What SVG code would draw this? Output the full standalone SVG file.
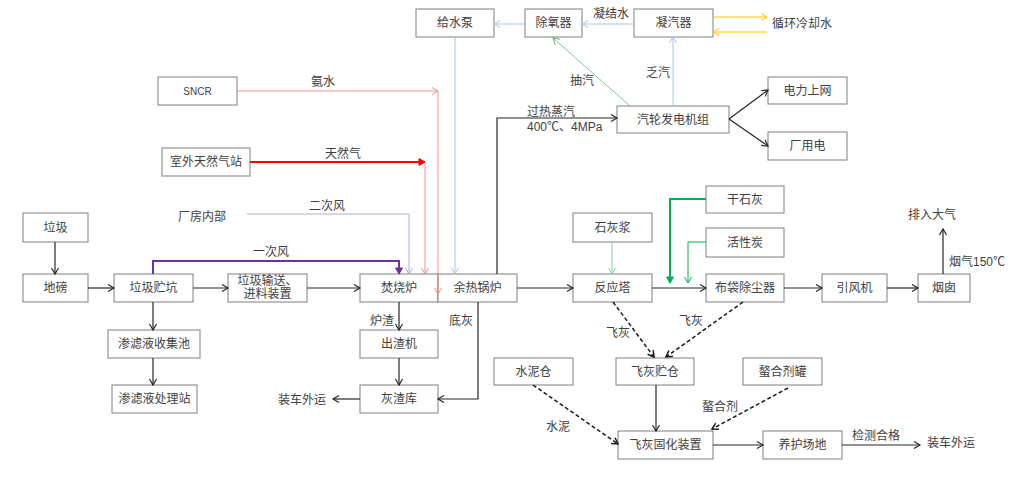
<svg xmlns="http://www.w3.org/2000/svg" width="1016" height="480" viewBox="0 0 1016 480">
<style>
.box{fill:#fff;stroke:#7f7f7f;stroke-width:1}
text{font-family:"Liberation Sans","Noto Sans CJK SC",sans-serif;font-size:12px;fill:#404040}
.c{text-anchor:middle}
.k{fill:none;stroke:#262626;stroke-width:1.2}
.kd{fill:none;stroke:#1a1a1a;stroke-width:1.5;stroke-dasharray:4,2.5}
.lb{fill:none;stroke:#a8c4e8;stroke-width:1}
.pk{fill:none;stroke:#f48c8c;stroke-width:1}
.rd{fill:none;stroke:#ff0000;stroke-width:2}
.pu{fill:none;stroke:#7030a0;stroke-width:2}
.lp{fill:none;stroke:#b9a6d8;stroke-width:1}
.gt{fill:none;stroke:#00b050;stroke-width:2}
.gn{fill:none;stroke:#00b050;stroke-width:1}
.lg{fill:none;stroke:#80d4a0;stroke-width:1}
.gs{fill:none;stroke:#5cb87a;stroke-width:0.8}
.or{fill:none;stroke:#ffc000;stroke-width:1}
</style>
<defs>
<marker id="ak" markerWidth="10" markerHeight="10" refX="8" refY="5" orient="auto" markerUnits="userSpaceOnUse"><path d="M2,1.5 L8,5 L2,8.5" fill="none" stroke="#262626" stroke-width="1.2"/></marker>
<marker id="akd" markerWidth="10" markerHeight="10" refX="8" refY="5" orient="auto" markerUnits="userSpaceOnUse"><path d="M2,1.5 L8,5 L2,8.5" fill="none" stroke="#1a1a1a" stroke-width="1.5"/></marker>
<marker id="alb" markerWidth="10" markerHeight="10" refX="8" refY="5" orient="auto" markerUnits="userSpaceOnUse"><path d="M2,1.5 L8,5 L2,8.5" fill="none" stroke="#a8c4e8" stroke-width="1"/></marker>
<marker id="apk" markerWidth="10" markerHeight="10" refX="8" refY="5" orient="auto" markerUnits="userSpaceOnUse"><path d="M2,1.5 L8,5 L2,8.5" fill="none" stroke="#f48c8c" stroke-width="1"/></marker>
<marker id="ard" markerWidth="10" markerHeight="10" refX="8" refY="5" orient="auto" markerUnits="userSpaceOnUse"><path d="M2,1.5 L8,5 L2,8.5 Z" fill="#ff0000" stroke="#ff0000" stroke-width="1"/></marker>
<marker id="apu" markerWidth="10" markerHeight="10" refX="8" refY="5" orient="auto" markerUnits="userSpaceOnUse"><path d="M2,1.5 L8,5 L2,8.5 Z" fill="#7030a0" stroke="#7030a0" stroke-width="1"/></marker>
<marker id="alp" markerWidth="10" markerHeight="10" refX="8" refY="5" orient="auto" markerUnits="userSpaceOnUse"><path d="M2,1.5 L8,5 L2,8.5" fill="none" stroke="#b9a6d8" stroke-width="1"/></marker>
<marker id="agt" markerWidth="10" markerHeight="10" refX="8" refY="5" orient="auto" markerUnits="userSpaceOnUse"><path d="M2,1.5 L8,5 L2,8.5 Z" fill="#00b050" stroke="#00b050" stroke-width="1"/></marker>
<marker id="agn" markerWidth="10" markerHeight="10" refX="8" refY="5" orient="auto" markerUnits="userSpaceOnUse"><path d="M2,1.5 L8,5 L2,8.5" fill="none" stroke="#00b050" stroke-width="1"/></marker>
<marker id="alg" markerWidth="10" markerHeight="10" refX="8" refY="5" orient="auto" markerUnits="userSpaceOnUse"><path d="M2,1.5 L8,5 L2,8.5" fill="none" stroke="#80d4a0" stroke-width="1"/></marker>
<marker id="ags" markerWidth="10" markerHeight="10" refX="8" refY="5" orient="auto" markerUnits="userSpaceOnUse"><path d="M2,1.5 L8,5 L2,8.5" fill="none" stroke="#5cb87a" stroke-width="1"/></marker>
<marker id="aor" markerWidth="10" markerHeight="10" refX="8" refY="5" orient="auto" markerUnits="userSpaceOnUse"><path d="M2,1.5 L8,5 L2,8.5" fill="none" stroke="#ffc000" stroke-width="1"/></marker>
</defs>
<rect width="1016" height="480" fill="#fff"/>

<g id="nodes">
<g id="n-gsb"><rect class="box" x="416" y="9" width="78" height="28"/><text class="c" x="455" y="27">给水泵</text></g>
<g id="n-cyq"><rect class="box" x="525" y="9" width="57" height="28"/><text class="c" x="553.5" y="27">除氧器</text></g>
<g id="n-nqq"><rect class="box" x="634" y="9" width="79" height="28"/><text class="c" x="673.5" y="27">凝汽器</text></g>
<g id="n-qlfdjz"><rect class="box" x="617" y="106" width="112" height="27"/><text class="c" x="673" y="124">汽轮发电机组</text></g>
<g id="n-dlsw"><rect class="box" x="768" y="77" width="79" height="27"/><text class="c" x="807.5" y="95">电力上网</text></g>
<g id="n-cyd"><rect class="box" x="768" y="132" width="79" height="28"/><text class="c" x="807.5" y="150">厂用电</text></g>
<g id="n-sncr"><rect class="box" x="158" y="77" width="79" height="28"/><text class="c" x="197.5" y="95" style="font-size:10px">SNCR</text></g>
<g id="n-trqz"><rect class="box" x="162" y="148" width="88" height="28"/><text class="c" x="206" y="166">室外天然气站</text></g>
<g id="n-lj"><rect class="box" x="23" y="213" width="65" height="29"/><text class="c" x="55.5" y="232">垃圾</text></g>
<g id="n-db"><rect class="box" x="23" y="274" width="65" height="28"/><text class="c" x="55.5" y="292">地磅</text></g>
<g id="n-ljck"><rect class="box" x="114" y="274" width="79" height="28"/><text class="c" x="153.5" y="292">垃圾贮坑</text></g>
<g id="n-ljss"><rect class="box" x="228" y="274" width="79" height="28"/><text class="c" x="267.5" y="285">垃圾输送、</text><text class="c" x="267.5" y="298">进料装置</text></g>
<g id="n-slysj"><rect class="box" x="108" y="330" width="92" height="28"/><text class="c" x="154" y="348">渗滤液收集池</text></g>
<g id="n-slycl"><rect class="box" x="112" y="385" width="85" height="28"/><text class="c" x="154.5" y="403">渗滤液处理站</text></g>
<g id="n-fsl"><rect class="box" x="360" y="274" width="78" height="28"/><text class="c" x="399" y="292">焚烧炉</text></g>
<g id="n-yrgl"><rect class="box" x="438" y="274" width="79" height="28"/><text class="c" x="477.5" y="292">余热锅炉</text></g>
<g id="n-czj"><rect class="box" x="360" y="330" width="78" height="28"/><text class="c" x="399" y="348">出渣机</text></g>
<g id="n-hzk"><rect class="box" x="360" y="385" width="78" height="28"/><text class="c" x="399" y="403">灰渣库</text></g>
<g id="n-fyt"><rect class="box" x="573" y="274" width="79" height="28"/><text class="c" x="612.5" y="292">反应塔</text></g>
<g id="n-shj"><rect class="box" x="573" y="213" width="79" height="29"/><text class="c" x="612.5" y="232">石灰浆</text></g>
<g id="n-gsh"><rect class="box" x="706" y="186" width="78" height="27"/><text class="c" x="745" y="204">干石灰</text></g>
<g id="n-hxt"><rect class="box" x="706" y="228" width="78" height="29"/><text class="c" x="745" y="247">活性炭</text></g>
<g id="n-bdccq"><rect class="box" x="706" y="274" width="78" height="28"/><text class="c" x="745" y="292">布袋除尘器</text></g>
<g id="n-yfj"><rect class="box" x="822" y="274" width="65" height="28"/><text class="c" x="854.5" y="292">引风机</text></g>
<g id="n-yc"><rect class="box" x="918" y="274" width="52" height="28"/><text class="c" x="944" y="292">烟囱</text></g>
<g id="n-snc"><rect class="box" x="494" y="358" width="79" height="27"/><text class="c" x="533.5" y="376">水泥仓</text></g>
<g id="n-fhzc"><rect class="box" x="616" y="358" width="78" height="27"/><text class="c" x="655" y="376">飞灰贮仓</text></g>
<g id="n-zhjg"><rect class="box" x="743" y="358" width="79" height="27"/><text class="c" x="782.5" y="376">螯合剂罐</text></g>
<g id="n-fhgh"><rect class="box" x="618" y="431" width="95" height="28"/><text class="c" x="665.5" y="449">飞灰固化装置</text></g>
<g id="n-yhcd"><rect class="box" x="763" y="431" width="79" height="28"/><text class="c" x="802.5" y="449">养护场地</text></g>
</g>

<g id="connectors">
<path class="or" d="M713,17 H767" marker-end="url(#aor)"/>
<path class="or" d="M767,32 H713" marker-end="url(#aor)"/>
<path class="lb" d="M634,24 H582" marker-end="url(#alb)"/>
<path class="lb" d="M525,24 H494" marker-end="url(#alb)"/>
<path class="lb" d="M673,106 V37" marker-end="url(#alb)"/>
<path class="gs" d="M630,106 L553,38" marker-end="url(#ags)"/>
<path class="lb" d="M455,37 V274" marker-end="url(#alb)"/>
<path class="k" d="M497,274 V118 H617" marker-end="url(#ak)"/>
<path class="k" d="M729,119 L768,90" marker-end="url(#ak)"/>
<path class="k" d="M729,119 L768,146" marker-end="url(#ak)"/>
<path class="pk" d="M237,91 H438" marker-end="url(#apk)"/>
<path class="pk" d="M438,91 V294" marker-end="url(#apk)"/>
<path class="rd" d="M250,162 H425" marker-end="url(#ard)"/>
<path class="pk" d="M425,162 V274" marker-end="url(#apk)"/>
<path class="lp" d="M247,214 H409 V274" marker-end="url(#alp)"/>
<path class="pu" d="M153,274 V261 H399 V274" marker-end="url(#apu)"/>
<path class="k" d="M55,242 V274" marker-end="url(#ak)"/>
<path class="k" d="M88,288 H114" marker-end="url(#ak)"/>
<path class="k" d="M193,288 H228" marker-end="url(#ak)"/>
<path class="k" d="M307,288 H360" marker-end="url(#ak)"/>
<path class="k" d="M153,302 V330" marker-end="url(#ak)"/>
<path class="k" d="M153,358 V385" marker-end="url(#ak)"/>
<path class="k" d="M399,302 V330" marker-end="url(#ak)"/>
<path class="k" d="M399,358 V385" marker-end="url(#ak)"/>
<path class="k" d="M478,302 V399 H438" marker-end="url(#ak)"/>
<path class="k" d="M360,399 H333" marker-end="url(#ak)"/>
<path class="k" d="M517,288 H573" marker-end="url(#ak)"/>
<path class="lg" d="M612,242 V274" marker-end="url(#alg)"/>
<path class="k" d="M652,288 H706" marker-end="url(#ak)"/>
<path class="gt" d="M706,199 H670 V283" marker-end="url(#agt)"/>
<path class="gn" d="M706,242 H688 V283" marker-end="url(#agn)"/>
<path class="k" d="M784,288 H822" marker-end="url(#ak)"/>
<path class="k" d="M887,288 H918" marker-end="url(#ak)"/>
<path class="k" d="M943,274 V229" marker-end="url(#ak)"/>
<path class="kd" d="M613,302 L654,357" marker-end="url(#akd)"/>
<path class="kd" d="M743,302 L666,357" marker-end="url(#akd)"/>
<path class="k" d="M656,385 V431" marker-end="url(#ak)"/>
<path class="kd" d="M533,385 L618,444" marker-end="url(#akd)"/>
<path class="kd" d="M788,388 L712,429" marker-end="url(#akd)"/>
<path class="k" d="M713,445 H763" marker-end="url(#ak)"/>
<path class="k" d="M842,445 H920" marker-end="url(#ak)"/>
</g>

<g id="labels">
<text class="c" x="611" y="18">凝结水</text>
<text x="772" y="28">循环冷却水</text>
<text class="c" x="582" y="85">抽汽</text>
<text class="c" x="658" y="77">乏汽</text>
<text x="527" y="116">过热蒸汽</text>
<text x="527" y="131">400℃、4MPa</text>
<text class="c" x="323" y="86">氨水</text>
<text class="c" x="343" y="158">天然气</text>
<text class="c" x="202" y="221">厂房内部</text>
<text class="c" x="327" y="210">二次风</text>
<text class="c" x="271" y="256">一次风</text>
<text class="c" x="382" y="325">炉渣</text>
<text class="c" x="461" y="325">底灰</text>
<text class="c" x="302" y="404">装车外运</text>
<text class="c" x="618" y="337">飞灰</text>
<text class="c" x="691" y="325">飞灰</text>
<text class="c" x="932" y="219">排入大气</text>
<text x="949" y="266">烟气150℃</text>
<text class="c" x="558" y="431">水泥</text>
<text class="c" x="720" y="411">螯合剂</text>
<text class="c" x="876" y="440">检测合格</text>
<text x="927" y="447">装车外运</text>
</g>
</svg>
